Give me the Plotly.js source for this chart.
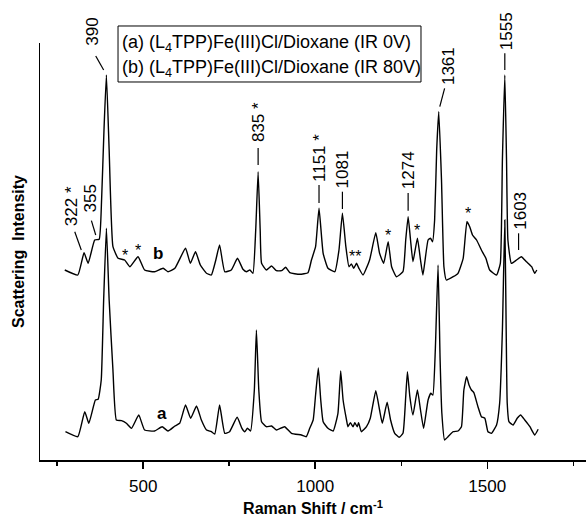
<!DOCTYPE html>
<html>
<head>
<meta charset="utf-8">
<script src="https://cdn.plot.ly/plotly-3.0.1.min.js"></script>
<style>html,body{margin:0;padding:0;background:#fff;}#chart{width:587px;height:522px;}</style>
</head>
<body>
<div id="chart"></div>
<script>
// Spectrum (a): IR 0V
var shiftA = [274,310,330,342,361,369,378,385,393,401,412,422,437,451,466,487,504,533,555,572,592,606,623,638,655,669,684,698,708,722,737,751,773,787,795,803,812,823,829,836,844,858,873,887,911,931,960,974,984,994,1001,1009,1016,1023,1037,1052,1066,1074,1081,1091,1095,1102,1110,1115,1122,1126,1134,1149,1160,1176,1187,1195,1209,1219,1231,1244,1255,1263,1268,1275,1284,1297,1306,1315,1328,1336,1342,1349,1357,1363,1368,1376,1386,1401,1415,1425,1432,1440,1447,1454,1461,1473,1483,1493,1502,1512,1527,1536,1544,1551,1555,1558,1563,1575,1587,1597,1609,1624,1638,1648];
var intA = [28.3,23.3,48.3,36.7,60,60.7,80,160,231.7,160,90,40,39.3,36.7,31.7,45,30,29,33.3,29,34,36.7,55,41.7,54,40,30,28.3,26,55,26.7,28.3,42.7,31.7,28.3,31.7,29,70,130,70,38.3,33.3,34,30,33.3,26.7,25,23.3,31.7,40,65,92,60,38.3,31.7,29,46.7,89,60,40,33.3,37.3,33.3,37.3,33.3,37.3,28.3,33.3,41.7,69.3,50,36.7,57.7,40,26.7,22.7,26.7,63.3,88.3,63.3,45,70,50,31.7,60,66.7,65,110,195,100,47,20,23.3,28.3,29,33.3,70,83.3,75,70,67.3,53.3,43.3,41.7,28.3,26.7,35,56.7,130,240,130,57,38.3,35,41.7,45,40,33.3,25,30.7];
// Spectrum (b): IR 80V
var shiftB = [272,310,328,340,359,372,379,386,393,401,412,427,446,461,485,504,533,558,572,592,623,637,652,666,684,698,711,722,737,756,774,790,800,810,819,827,834,840,844,858,873,887,902,914,926,955,979,989,1001,1011,1023,1037,1057,1069,1079,1089,1098,1105,1112,1120,1127,1139,1158,1176,1187,1199,1212,1222,1236,1255,1263,1270,1277,1284,1297,1306,1313,1328,1335,1341,1347,1353,1359,1367,1374,1381,1401,1415,1430,1441,1449,1457,1469,1483,1496,1507,1527,1538,1544,1551,1556,1560,1570,1585,1599,1614,1629,1638,1644];
var intB = [190,185,207.3,196.7,220,220.7,260,330,385,310,213.3,201.7,200,193.3,203.3,190,188.3,191.7,188.3,191.7,211.7,196.7,208.3,195,186.7,185,200,215,188.3,190,201.7,190.7,188.3,190,186.7,230,288.3,230,196.7,190,194,189.3,189.3,192.7,187.3,185.7,187.3,200,213.3,251.7,206.7,191.7,188.3,210,246.7,213.3,193.3,196,191.7,196.7,191.7,185,200,227.3,206.7,196.7,218.3,193.3,183.3,188.3,220,243.3,220,198.3,221.7,200,185,220,221.7,218.3,240,310,348.3,280,193.3,180,183.3,186.7,201.7,238.3,233.3,225,220,210,201.7,190,185,196.7,300,385,300,220,196.7,200,203.3,198.3,193.3,186.7,190];

// Peak labels (text, position in axis units)
var peakText = ["322 *","355","390","835 *","1151 *","1081","1274","1361","1555","1603"];
var peakLabX = [292,346.5,353,834,1011,1079,1270,1386,1556,1594.5];
var peakLabY = [253.5,262,428,338,302,291,290,394,428.3,249];
// Leader lines [x0,y0,x1,y1]
var leaders = [[301,228.3,320,210],[349.4,239.3,362,225],[362,404,385,390],[834,312,834,295],[1011,275,1011,257],[1079,268.3,1079,251],[1270,267,1270,249.3],[1376,371.7,1362,353.3],[1551,406.7,1551,390],[1591,226.7,1591,210]];
// Asterisks marking solvent bands
var starX = [446,486,1115,1211,1297,1444];
var starY = [205,210,203.3,225,230,246.7];
var starT = ["*","*","**","*","*","*"];
var curveTag = ["a","b"];
var curveTagX = [555,542];
var curveTagY = [46.7,207];
var legendLines = ["(a) (L<sub>4</sub>TPP)Fe(III)Cl/Dioxane (IR 0V)","(b) (L<sub>4</sub>TPP)Fe(III)Cl/Dioxane (IR 80V)"];

var YMAX = 417;
var FONT = "Arial, 'Liberation Sans', sans-serif";
var traces = [
  {x: shiftA, y: intA, mode: "lines", line: {color: "#000", width: 1.4, shape: "spline", smoothing: 0.4}, hoverinfo: "skip", showlegend: false},
  {x: shiftB, y: intB, mode: "lines", line: {color: "#000", width: 1.4, shape: "spline", smoothing: 0.4}, hoverinfo: "skip", showlegend: false}
];

var ann = [];
var shapes = [];
for (var i = 0; i < peakText.length; i++) {
  ann.push({x: peakLabX[i], y: peakLabY[i] / YMAX, xref: "x", yref: "paper", text: peakText[i], textangle: -90,
    showarrow: false, xanchor: "center", yanchor: "middle", font: {family: FONT, size: 17, color: "#000"}});
}
for (var j = 0; j < leaders.length; j++) {
  var L = leaders[j];
  shapes.push({type: "line", xref: "x", yref: "y", x0: L[0], y0: L[1], x1: L[2], y1: L[3], line: {color: "#000", width: 1.2}});
}
for (var k = 0; k < starX.length; k++) {
  ann.push({x: starX[k], y: starY[k], xref: "x", yref: "y", text: starT[k], showarrow: false,
    xanchor: "center", yanchor: "middle", font: {family: FONT, size: 16, color: "#000"}});
}
for (var m = 0; m < curveTag.length; m++) {
  ann.push({x: curveTagX[m], y: curveTagY[m], xref: "x", yref: "y", text: "<b>" + curveTag[m] + "</b>", showarrow: false,
    xanchor: "center", yanchor: "middle", font: {family: FONT, size: 17, color: "#000"}});
}
// legend box
shapes.push({type: "rect", xref: "paper", yref: "paper", x0: 0.1429, x1: 0.6978, y0: 0.9065, y1: 1.0408, line: {color: "#000", width: 1}, fillcolor: "rgba(0,0,0,0)"});
ann.push({x: 0.1465, y: 1.0, xref: "paper", yref: "paper", text: legendLines[0], showarrow: false, xanchor: "left", yanchor: "middle", font: {family: FONT, size: 18, color: "#000"}});
ann.push({x: 0.1465, y: 0.940, xref: "paper", yref: "paper", text: legendLines[1], showarrow: false, xanchor: "left", yanchor: "middle", font: {family: FONT, size: 18, color: "#000"}});

var layout = {
  width: 587, height: 522,
  margin: {l: 40, r: 1, t: 43, b: 62},
  paper_bgcolor: "#fff", plot_bgcolor: "#fff",
  font: {family: FONT, color: "#000"},
  showlegend: false,
  xaxis: {
    range: [200, 1787], showline: true, linecolor: "#000", linewidth: 1.5, mirror: false,
    ticks: "outside", ticklen: 7, tickwidth: 1.5, tickcolor: "#000", ticklabelstandoff: 3,
    tickmode: "array", tickvals: [500, 1000, 1500], ticktext: ["500", "1000", "1500"],
    minor: {tickmode: "array", tickvals: [250, 750, 1250, 1750], ticks: "outside", ticklen: 4, tickwidth: 1.5, tickcolor: "#000", showgrid: false},
    tickfont: {family: FONT, size: 17, color: "#000"},
    showgrid: false, zeroline: false,
    title: {text: "<b>Raman Shift / cm<sup>-1</sup></b>", font: {family: FONT, size: 16, color: "#000"}, standoff: 8}
  },
  yaxis: {
    range: [0, YMAX], showline: true, linecolor: "#000", linewidth: 1.5,
    ticks: "", showticklabels: false, showgrid: false, zeroline: false,
    title: {text: "<b>Scattering  Intensity</b>", font: {family: FONT, size: 16, color: "#000"}, standoff: 10}
  },
  annotations: ann,
  shapes: shapes
};
Plotly.newPlot("chart", traces, layout, {displayModeBar: false, staticPlot: true});
</script>
</body>
</html>
